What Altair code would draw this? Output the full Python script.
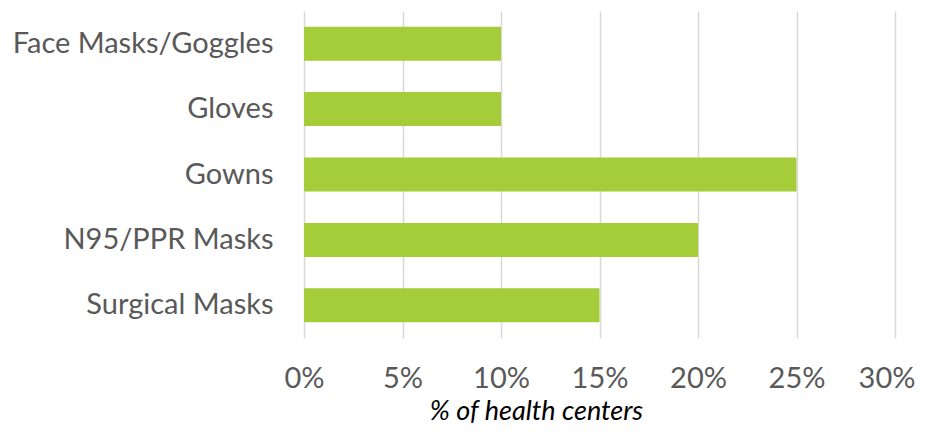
import altair as alt
import pandas as pd

categories = ["Face Masks/Goggles", "Gloves", "Gowns", "N95/PPR Masks", "Surgical Masks"]
values = [0.10, 0.10, 0.25, 0.20, 0.15]
x_ticks = [0, 0.05, 0.10, 0.15, 0.20, 0.25, 0.30]

df = pd.DataFrame({"item": categories, "pct": values})

FONT = "Lato"

chart = alt.Chart(df).mark_bar(color="#A5CD39").encode(
    x=alt.X("pct:Q",
            scale=alt.Scale(domain=[0, 0.30], nice=False, zero=True),
            axis=alt.Axis(values=x_ticks, format=".0%", title="% of health centers",
                          grid=True, gridColor="#D9D9D9", gridWidth=1.5,
                          domain=False, ticks=False,
                          labelFlush=1, labelFlushOffset=20,
                          labelFont=FONT, labelFontSize=29, labelColor="#595959",
                          labelPadding=26,
                          titleFont=FONT, titleFontSize=27, titleFontStyle="italic",
                          titleFontWeight="normal", titleColor="#000000",
                          titleX=232, titleY=81, titleAlign="center",
                          titleBaseline="alphabetic")),
    y=alt.Y("item:N", sort=categories,
            scale=alt.Scale(paddingInner=0.48, paddingOuter=0.24),
            axis=alt.Axis(title=None, domain=False, ticks=False, grid=False,
                          labelFont=FONT, labelFontSize=29, labelColor="#595959",
                          labelPadding=31, labelLimit=400)),
).properties(
    width=591,
    height=327,
    padding={"left": 296, "top": 3, "right": 22, "bottom": 88},
    autosize=alt.AutoSizeParams(type="none"),
).configure(background="white").configure_view(stroke=None)

chart.save("out.html", embed_options={"renderer": "svg", "actions": False})
